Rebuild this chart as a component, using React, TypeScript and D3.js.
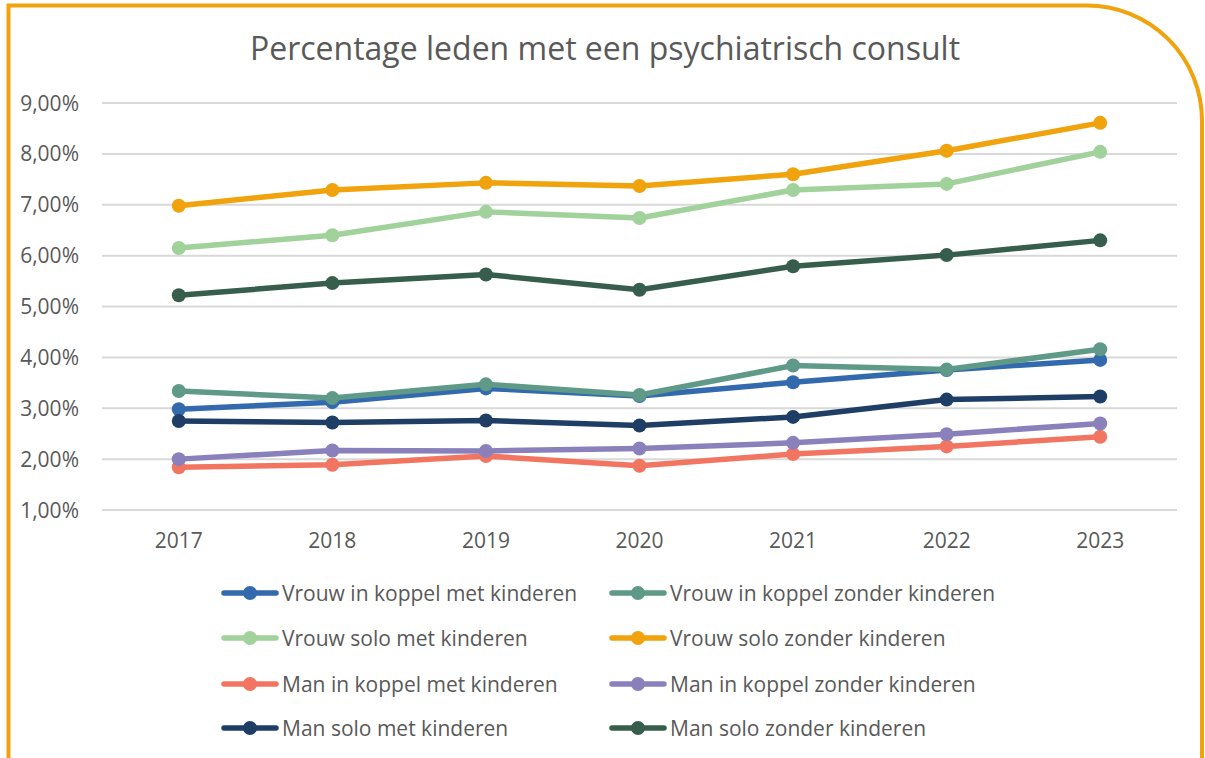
import React, { useEffect, useRef } from 'react';
import * as d3 from 'd3';

const years = ['2017', '2018', '2019', '2020', '2021', '2022', '2023'];
const yTicks = [1, 2, 3, 4, 5, 6, 7, 8, 9];

const seriesNames = [
  'Vrouw in koppel met kinderen',
  'Vrouw in koppel zonder kinderen',
  'Vrouw solo met kinderen',
  'Vrouw solo zonder kinderen',
  'Man in koppel met kinderen',
  'Man in koppel zonder kinderen',
  'Man solo met kinderen',
  'Man solo zonder kinderen',
];
const seriesColors = ['#336AAD', '#5F9987', '#A1D29B', '#F0A30C', '#F27561', '#8A80BC', '#1F3E66', '#375E4C'];

const vrouwKoppelMet = [2.98, 3.12, 3.39, 3.24, 3.51, 3.75, 3.95];
const vrouwKoppelZonder = [3.34, 3.2, 3.47, 3.26, 3.84, 3.76, 4.16];
const vrouwSoloMet = [6.15, 6.4, 6.86, 6.74, 7.29, 7.41, 8.04];
const vrouwSoloZonder = [6.98, 7.29, 7.43, 7.37, 7.6, 8.06, 8.61];
const manKoppelMet = [1.84, 1.89, 2.06, 1.87, 2.1, 2.25, 2.44];
const manKoppelZonder = [2.0, 2.17, 2.16, 2.21, 2.32, 2.49, 2.7];
const manSoloMet = [2.75, 2.72, 2.76, 2.66, 2.83, 3.17, 3.23];
const manSoloZonder = [5.22, 5.46, 5.63, 5.33, 5.79, 6.01, 6.3];

const seriesValues = [
  vrouwKoppelMet, vrouwKoppelZonder, vrouwSoloMet, vrouwSoloZonder,
  manKoppelMet, manKoppelZonder, manSoloMet, manSoloZonder,
];

const FONT = '"Open Sans", sans-serif';
const TEXT = '#595959';

const App: React.FC = () => {
  const svgRef = useRef<SVGSVGElement>(null);

  useEffect(() => {
    if (!svgRef.current) return;
    const W = 1205;
    const H = 758;
    const svg = d3.select(svgRef.current).attr('width', W).attr('height', H);
    svg.selectAll('*').remove();

    // orange frame, only top-right corner rounded, open at the bottom
    const r = 115;
    const left = 8.5, top = 5.5, right = 1202;
    svg.append('path')
      .attr('d', `M${left},${H + 10} L${left},${top} L${right - r},${top} A${r},${r} 0 0 1 ${right},${top + r} L${right},${H + 10}`)
      .attr('fill', 'none')
      .attr('stroke', '#F0A30C')
      .attr('stroke-width', 4);

    svg.append('text')
      .attr('x', 605)
      .attr('y', 60)
      .attr('text-anchor', 'middle')
      .attr('font-family', FONT)
      .attr('font-size', 32)
      .attr('fill', TEXT)
      .text('Percentage leden met een psychiatrisch consult');

    const x = d3.scalePoint<string>().domain(years).range([102, 1177]).padding(0.5);
    const y = d3.scaleLinear().domain([1, 9]).range([510, 103]);

    // gridlines
    svg.append('g')
      .selectAll('line')
      .data(yTicks)
      .join('line')
      .attr('x1', 102)
      .attr('x2', 1177)
      .attr('y1', d => y(d))
      .attr('y2', d => y(d))
      .attr('stroke', '#D9D9D9')
      .attr('stroke-width', 2);

    // y labels
    svg.append('g')
      .selectAll('text')
      .data(yTicks)
      .join('text')
      .attr('x', 79)
      .attr('y', d => y(d) + 7.5)
      .attr('text-anchor', 'end')
      .attr('font-family', FONT)
      .attr('font-size', 21)
      .attr('fill', TEXT)
      .text(d => d3.format('.2f')(d).replace('.', ',') + '%');

    // x labels
    svg.append('g')
      .selectAll('text')
      .data(years)
      .join('text')
      .attr('x', d => x(d) as number)
      .attr('y', 548)
      .attr('text-anchor', 'middle')
      .attr('font-family', FONT)
      .attr('font-size', 21)
      .attr('fill', TEXT)
      .text(d => d);

    const line = d3.line<number>()
      .x((_, i) => x(years[i]) as number)
      .y(d => y(d));

    seriesValues.forEach((vals, si) => {
      const g = svg.append('g');
      g.append('path')
        .attr('d', line(vals))
        .attr('fill', 'none')
        .attr('stroke', seriesColors[si])
        .attr('stroke-width', 5.5)
        .attr('stroke-linejoin', 'round');
      g.selectAll('circle')
        .data(vals)
        .join('circle')
        .attr('cx', (_, i) => x(years[i]) as number)
        .attr('cy', d => y(d))
        .attr('r', 7)
        .attr('fill', seriesColors[si]);
    });

    // legend
    const legendCols = [222, 610];
    const legendRows = [593, 638, 684, 728];
    seriesNames.forEach((name, i) => {
      const lx = legendCols[i % 2];
      const ly = legendRows[Math.floor(i / 2)];
      const g = svg.append('g');
      g.append('line')
        .attr('x1', lx + 2)
        .attr('x2', lx + 54)
        .attr('y1', ly)
        .attr('y2', ly)
        .attr('stroke', seriesColors[i])
        .attr('stroke-width', 5.5)
        .attr('stroke-linecap', 'round');
      g.append('circle')
        .attr('cx', lx + 28)
        .attr('cy', ly)
        .attr('r', 7)
        .attr('fill', seriesColors[i]);
      g.append('text')
        .attr('x', lx + 60)
        .attr('y', ly + 7.5)
        .attr('font-family', FONT)
        .attr('font-size', 21)
        .attr('fill', TEXT)
        .text(name);
    });
  }, []);

  return (
    <div style={{ position: 'absolute', left: 0, top: 0 }}>
      <svg ref={svgRef} style={{ display: 'block' }} />
    </div>
  );
};

export default App;
